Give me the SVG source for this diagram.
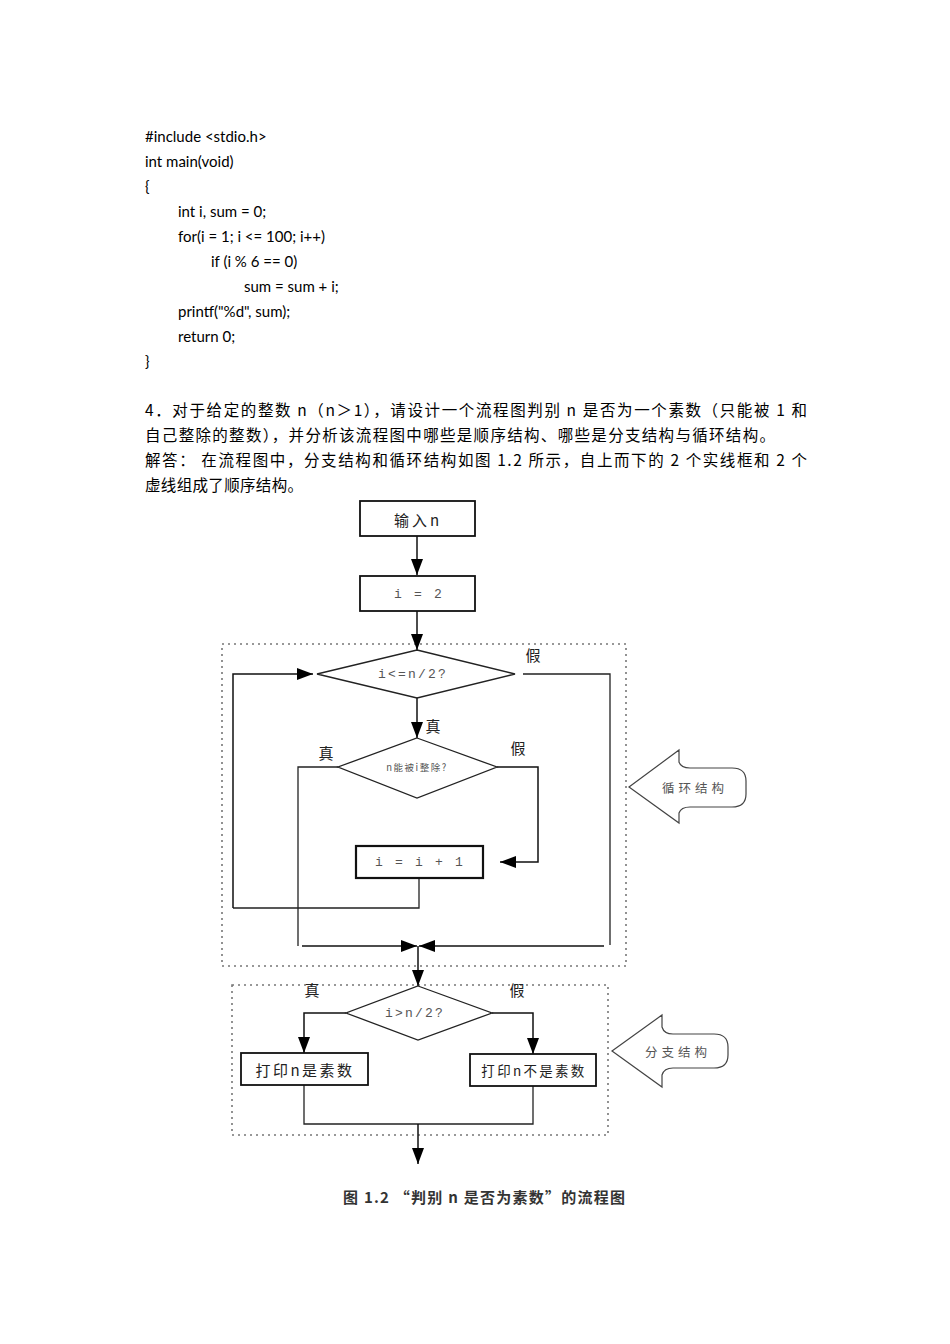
<svg xmlns="http://www.w3.org/2000/svg" width="950" height="1344" viewBox="0 0 950 1344">
<style>
.code{font-family:Lato,"Liberation Sans",sans-serif;font-size:15px;fill:#000}
.para{font-family:"Noto Sans CJK SC",sans-serif;font-size:15.5px;fill:#000}
.lbl{font-family:"Noto Sans CJK SC",sans-serif;font-size:14px;fill:#222;text-anchor:middle;dominant-baseline:central}
.mono{font-family:"Liberation Mono","Noto Sans CJK SC",monospace;font-size:13px;fill:#555;text-anchor:middle;dominant-baseline:central;letter-spacing:2.2px}
.box{fill:#fff;stroke:#111;stroke-width:1.8}
.dia{fill:#fff;stroke:#222;stroke-width:1.3}
.ln{fill:none;stroke:#222;stroke-width:1.3}
.arr{fill:none;stroke:#111;stroke-width:1.5;marker-end:url(#ah)}
.dash{fill:none;stroke:#777;stroke-width:1.6;stroke-dasharray:2 4}
.call{fill:#fff;stroke:#444;stroke-width:1.2}
.ctext{font-family:"Noto Sans CJK SC",sans-serif;font-size:12.5px;fill:#555;text-anchor:middle;dominant-baseline:central;letter-spacing:4px}
</style>
<defs>
<marker id="ah" markerUnits="userSpaceOnUse" markerWidth="16" markerHeight="12" refX="16" refY="6" orient="auto">
<path d="M0,0 L16,6 L0,12 z" fill="#000"/>
</marker>
</defs>
<rect width="950" height="1344" fill="#fff"/>

<g id="code">
<text class="code" x="145" y="142">#include &lt;stdio.h&gt;</text>
<text class="code" x="145" y="167">int main(void)</text>
<text class="code" x="145" y="192">{</text>
<text class="code" x="178" y="217">int i, sum = 0;</text>
<text class="code" x="178" y="242">for(i = 1; i &lt;= 100; i++)</text>
<text class="code" x="211" y="267">if (i % 6 == 0)</text>
<text class="code" x="244" y="292">sum = sum + i;</text>
<text class="code" x="178" y="317">printf("%d", sum);</text>
<text class="code" x="178" y="342">return 0;</text>
<text class="code" x="145" y="367">}</text>
</g>

<g id="paragraph">
<text class="para" x="145" y="416" textLength="662" lengthAdjust="spacing">4．对于给定的整数  n（n＞1），请设计一个流程图判别  n 是否为一个素数（只能被  1 和</text>
<text class="para" x="145" y="441" textLength="630" lengthAdjust="spacing">自己整除的整数），并分析该流程图中哪些是顺序结构、哪些是分支结构与循环结构。</text>
<text class="para" x="145" y="466" textLength="662" lengthAdjust="spacing">解答：  在流程图中，分支结构和循环结构如图  1.2 所示，自上而下的  2 个实线框和  2 个</text>
<text class="para" x="145" y="491" textLength="158" lengthAdjust="spacing">虚线组成了顺序结构。</text>
</g>

<g id="loop-region"><rect class="dash" x="222" y="644" width="404" height="322"/></g>
<g id="branch-region"><rect class="dash" x="232" y="985" width="376" height="150"/></g>

<g id="connectors">
<line class="arr" x1="417" y1="536" x2="417" y2="575"/>
<line class="arr" x1="417" y1="611" x2="417" y2="650"/>
<line class="arr" x1="417" y1="698" x2="417" y2="738"/>
<polyline class="ln" points="233,908 419,908 419,879"/>
<polyline class="arr" points="233,908 233,674 313,674"/>
<polyline class="ln" points="523,674 610,674 610,945"/>
<polyline class="ln" points="338,767 298,767 298,946"/>
<line class="arr" x1="302" y1="946" x2="417" y2="946"/>
<line class="arr" x1="604" y1="946" x2="419" y2="946"/>
<polyline class="arr" points="497,767 538,767 538,862 500,862"/>
<line class="arr" x1="418" y1="946" x2="418" y2="986"/>
<polyline class="arr" points="346,1013 304,1013 304,1053"/>
<polyline class="arr" points="492,1013 533,1013 533,1054"/>
<polyline class="ln" points="304,1085 304,1124 533,1124 533,1086"/>
<line class="arr" x1="418" y1="1124" x2="418" y2="1164"/>
</g>

<g id="input-n">
<rect class="box" x="360" y="501" width="115" height="35"/>
<text class="lbl" x="418" y="519" style="font-size:15px;letter-spacing:3px">输入n</text>
</g>
<g id="init-i">
<rect class="box" x="360" y="576" width="115" height="35"/>
<text class="mono" x="419" y="594" xml:space="preserve">i = 2</text>
</g>
<g id="cond-loop">
<polygon class="dia" points="417,650 515,674 417,698 317,674"/>
<text class="mono" x="413" y="674">i&lt;=n/2?</text>
</g>
<g id="cond-divisible">
<polygon class="dia" points="417,738 497,767 417,798 338,767"/>
<text class="lbl" x="417" y="767" style="font-size:9.5px;fill:#555;letter-spacing:1.5px">n能被i整除?</text>
</g>
<g id="increment">
<rect class="box" x="356" y="846" width="127" height="32" style="stroke-width:2.2"/>
<text class="mono" x="420" y="862" xml:space="preserve">i = i + 1</text>
</g>
<g id="cond-prime">
<polygon class="dia" points="418,986 492,1013 418,1040 346,1013"/>
<text class="mono" x="415" y="1013">i&gt;n/2?</text>
</g>
<g id="print-prime">
<rect class="box" x="241" y="1053" width="127" height="32"/>
<text class="lbl" x="305" y="1069" style="font-size:15px;letter-spacing:2.5px">打印n是素数</text>
</g>
<g id="print-not-prime">
<rect class="box" x="470" y="1054" width="126" height="32"/>
<text class="lbl" x="534" y="1070" style="font-size:13.5px;letter-spacing:2.3px">打印n不是素数</text>
</g>

<g id="labels">
<text class="lbl" x="533" y="654" style="font-size:15px">假</text>
<text class="lbl" x="433" y="725" style="font-size:15px">真</text>
<text class="lbl" x="326" y="752" style="font-size:15px">真</text>
<text class="lbl" x="518" y="747" style="font-size:15px">假</text>
<text class="lbl" x="312" y="989" style="font-size:15px">真</text>
<text class="lbl" x="517" y="989" style="font-size:15px">假</text>
</g>

<g id="callout-loop">
<path class="call" d="M629,787 L679,750 L679,762 Q681,768 690,768 L732,768 Q746,768 746,781 L746,794 Q746,807 732,807 L690,807 Q681,807 679,813 L679,823 Z"/>
<text class="ctext" x="695" y="787">循环结构</text>
</g>
<g id="callout-branch">
<path class="call" d="M612,1051 L662,1015 L662,1027 Q664,1034 673,1034 L714,1034 Q728,1034 728,1047 L728,1055 Q728,1068 714,1068 L673,1068 Q664,1068 662,1075 L662,1087 Z"/>
<text class="ctext" x="678" y="1051">分支结构</text>
</g>

<g id="caption">
<text x="343" y="1203" textLength="282" lengthAdjust="spacing" style="font-family:'Noto Sans CJK SC',sans-serif;font-size:15px;font-weight:bold;fill:#333">图 1.2 “判别 n 是否为素数”的流程图</text>
</g>
</svg>
